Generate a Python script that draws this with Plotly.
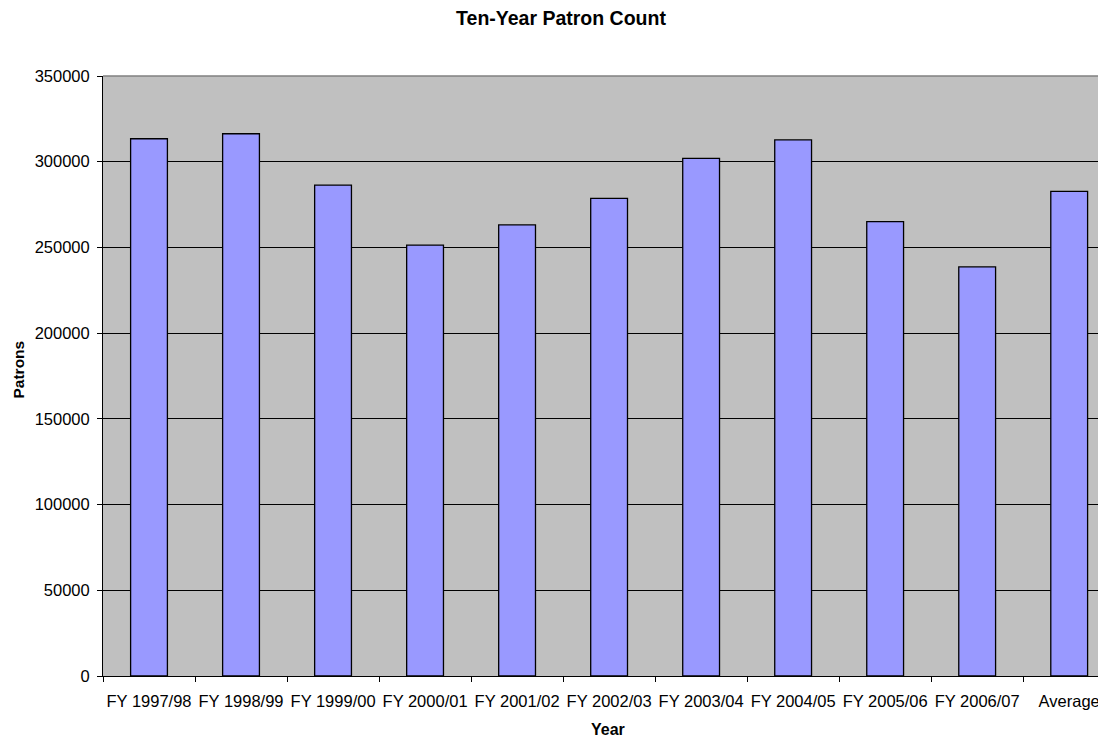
import plotly.graph_objects as go

categories = ["FY 1997/98", "FY 1998/99", "FY 1999/00", "FY 2000/01", "FY 2001/02",
              "FY 2002/03", "FY 2003/04", "FY 2004/05", "FY 2005/06", "FY 2006/07", "Average"]
patrons = [313400, 316300, 286400, 251400, 263100, 278600, 302000, 312700, 265000, 238600, 282700]
y_ticks = [0, 50000, 100000, 150000, 200000, 250000, 300000, 350000]

FONT = "Liberation Sans, Arial, sans-serif"

# the page body adds an 8px margin; size the figure so it fits the 1106x739 window
OFF = 8
W, H = 1106 - OFF, 739 - OFF
PL, PT, PR, PB = 103 - OFF, 76 - OFF, 1106 - OFF, 676 - OFF  # plot area in figure px
PW, PH = PR - PL, PB - PT

fig = go.Figure()
fig.add_trace(go.Bar(
    x=categories, y=patrons,
    marker=dict(color="#9999FF", line=dict(color="black", width=1.3)),
    width=0.4,
))

fig.update_layout(
    width=W, height=H,
    margin=dict(l=PL, r=W - PR, t=PT, b=H - PB, autoexpand=False),
    paper_bgcolor="white", plot_bgcolor="#C0C0C0",
    showlegend=False,
    font=dict(family=FONT, size=16.5, color="black"),
    title=dict(text="<b>Ten-Year Patron Count</b>", x=(561 - OFF) / W, xanchor="center",
               y=1 - (18 - OFF) / H, yanchor="middle", font=dict(size=19.5, family=FONT)),
)
fig.update_xaxes(
    type="category", range=[-0.5, 10.4], automargin=False,
    showline=True, linecolor="black", linewidth=1,
    ticks="outside", tickson="boundaries", ticklen=5, tickcolor="black",
    tickfont=dict(size=16.5), ticklabelstandoff=10, tickangle=0,
    showgrid=False, zeroline=False,
)
fig.update_yaxes(
    range=[0, 350000], tickvals=y_ticks, ticktext=[str(v) for v in y_ticks],
    automargin=False,
    showline=True, linecolor="black", linewidth=1,
    ticks="outside", ticklen=5, tickcolor="black",
    tickfont=dict(size=16.5), ticklabelstandoff=4,
    showgrid=True, gridcolor="black", gridwidth=1, zeroline=False,
)
# top border of plot area
fig.add_shape(type="line", xref="paper", yref="paper", x0=0, x1=1, y0=1, y1=1,
              line=dict(color="#808080", width=1.5))
# axis titles
fig.add_annotation(text="<b>Year</b>", xref="paper", yref="paper",
                   x=(608 - 103) / PW, y=-(729 - 676) / PH,
                   yanchor="middle", showarrow=False, font=dict(size=16))
fig.add_annotation(text="<b>Patrons</b>", xref="paper", yref="paper",
                   x=-(103 - 17.5) / PW, y=(676 - 370) / PH,
                   xanchor="center", yanchor="middle", textangle=-90,
                   showarrow=False, font=dict(size=15.5))

fig.write_html("out.html")
